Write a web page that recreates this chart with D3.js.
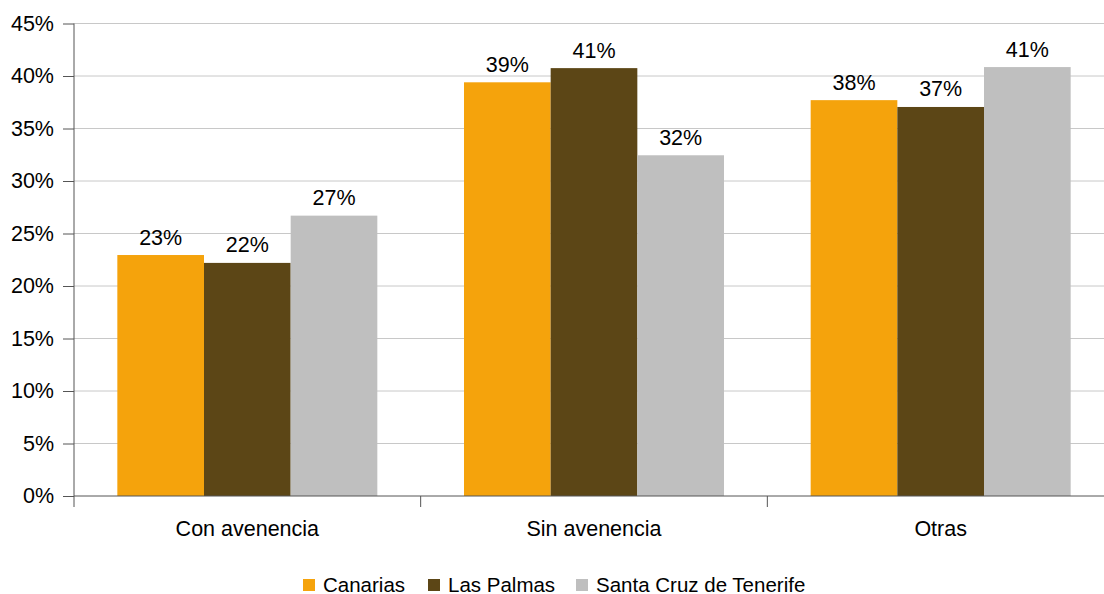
<!DOCTYPE html>
<html><head><meta charset="utf-8">
<script src="https://cdn.jsdelivr.net/npm/d3@7"></script>
<style>body{margin:0;background:#fff}svg{display:block;font-family:"Liberation Sans",Arial,sans-serif}</style>
</head><body><svg id="c" width="1104" height="594"></svg>
<script>
const categories = ["Con avenencia", "Sin avenencia", "Otras"];
const seriesNames = ["Canarias", "Las Palmas", "Santa Cruz de Tenerife"];
const canarias = [22.95, 39.4, 37.7];
const lasPalmas = [22.2, 40.75, 37.05];
const santaCruz = [26.7, 32.45, 40.85];
const yTicks = [0, 5, 10, 15, 20, 25, 30, 35, 40, 45];
const colors = ["#f5a30c", "#5c4616", "#bfbfbf"];
const seriesValues = [canarias, lasPalmas, santaCruz];

const svg = d3.select("#c");
const mLeft = 74, mRight = 1114, mTop = 23.5, mBottom = 496;
const FS = 21.5, LFS = 20.5;
const y = d3.scaleLinear().domain([0, 45]).range([mBottom, mTop]);
const x0 = d3.scaleBand().domain(categories).range([mLeft, mRight]).paddingInner(0.25).paddingOuter(0.125);
const x1 = d3.scaleBand().domain(seriesNames).range([0, x0.bandwidth()]);

// gridlines
svg.append("g").selectAll("line").data(yTicks.filter(d => d > 0)).join("line")
  .attr("x1", mLeft).attr("x2", mRight).attr("y1", d => y(d)).attr("y2", d => y(d))
  .attr("stroke", "#c8c8c8").attr("stroke-width", 1);

// bars
const groups = svg.append("g").selectAll("g").data(categories).join("g")
  .attr("transform", c => `translate(${x0(c)},0)`);
groups.selectAll("rect").data((c, i) => seriesNames.map((s, j) => ({s, j, v: seriesValues[j][i]}))).join("rect")
  .attr("x", d => x1(d.s)).attr("width", x1.bandwidth())
  .attr("y", d => y(d.v)).attr("height", d => mBottom - y(d.v))
  .attr("fill", d => colors[d.j]);
groups.selectAll("text").data((c, i) => seriesNames.map((s, j) => ({s, j, v: seriesValues[j][i]}))).join("text")
  .attr("x", d => x1(d.s) + x1.bandwidth() / 2).attr("y", d => y(d.v) - 10.5)
  .attr("text-anchor", "middle").attr("font-size", FS).attr("fill", "#000")
  .text(d => Math.round(d.v) + "%");

// y axis
const yAxis = d3.axisLeft(y).tickValues(yTicks).tickSize(11).tickFormat(d => d + "%");
const ya = svg.append("g").attr("transform", `translate(${mLeft},0)`).call(yAxis);
ya.select(".domain").attr("stroke", "#555").attr("d", `M0,${mTop}V${mBottom}`);
ya.selectAll(".tick line").attr("stroke", "#555");
ya.selectAll(".tick text").attr("font-size", FS).attr("fill", "#000").attr("x", -20)
  .attr("font-family", "Liberation Sans, Arial, sans-serif");

// x axis
const xa = svg.append("g").attr("transform", `translate(0,${mBottom})`);
xa.append("line").attr("x1", mLeft).attr("x2", mRight).attr("stroke", "#555");
const bounds = [mLeft, ...categories.map(c => x0(c) + x0.bandwidth() + x0.step() * x0.paddingInner() / 2)];
xa.selectAll("line.t").data(bounds).join("line").attr("class", "t")
  .attr("x1", d => d).attr("x2", d => d).attr("y1", 0).attr("y2", 11).attr("stroke", "#555");
xa.selectAll("text").data(categories).join("text")
  .attr("x", c => x0(c) + x0.bandwidth() / 2).attr("y", 39.5)
  .attr("text-anchor", "middle").attr("font-size", FS).attr("fill", "#000").text(c => c);

// legend
const legendX = [303, 428, 576];
const lg = svg.append("g").selectAll("g").data(seriesNames).join("g")
  .attr("transform", (d, i) => `translate(${legendX[i]},579)`);
lg.append("rect").attr("width", 12).attr("height", 12).attr("fill", (d, i) => colors[i]);
lg.append("text").attr("x", 20).attr("y", 13).attr("font-size", LFS).attr("fill", "#000").text(d => d);
</script></body></html>
